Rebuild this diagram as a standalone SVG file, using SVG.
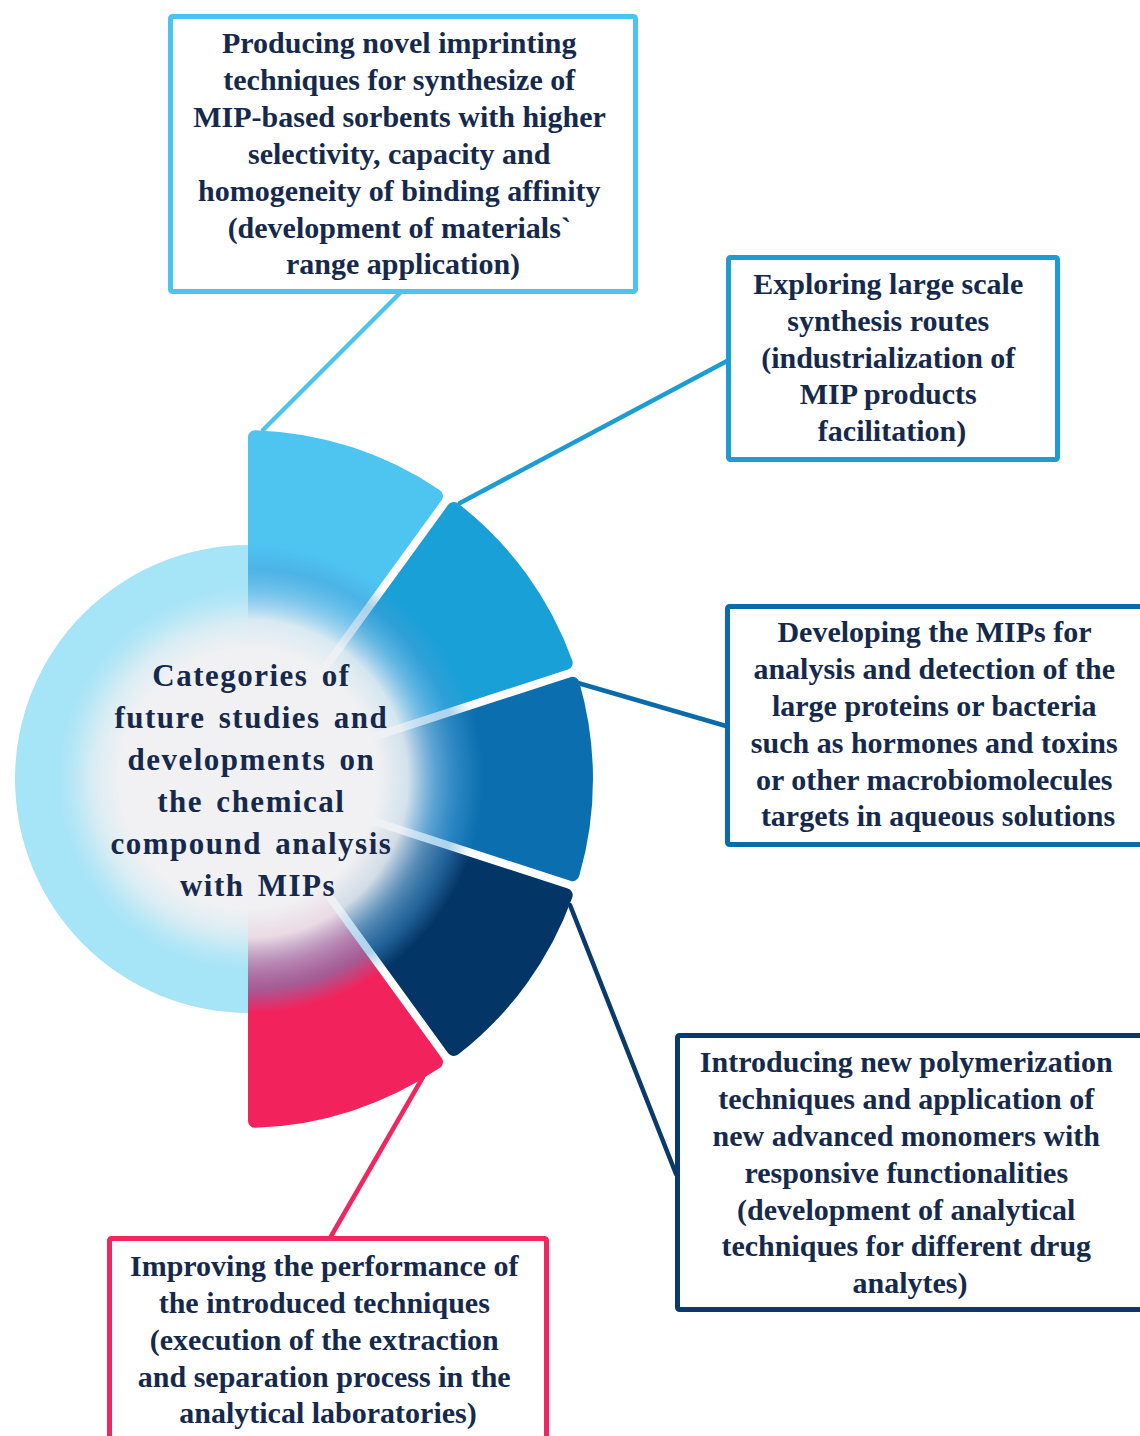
<svg xmlns="http://www.w3.org/2000/svg" width="1140" height="1436" viewBox="0 0 1140 1436">
<style>
.t{font-family:"Liberation Serif","Times New Roman",serif;font-weight:bold;font-size:30px;fill:#15294d;text-anchor:middle}
.c{font-size:31px;letter-spacing:1.5px;word-spacing:4px}
.box{fill:#ffffff;stroke-width:5}
.seg{stroke-width:14;stroke-linejoin:round}
.ln{stroke-width:4.5;fill:none;stroke-linecap:round}
</style>
<defs>
<path id="sector" d="M 11 -33.86 L 11 -341.82 A 342 342 0 0 1 192.02 -282.99 Z"/>
<radialGradient id="ovR" cx="249" cy="779" r="234" gradientUnits="userSpaceOnUse">
<stop offset="0" stop-color="#f1f1f3" stop-opacity="1"/>
<stop offset="0.55" stop-color="#f1f1f3" stop-opacity="1"/>
<stop offset="0.68" stop-color="#e9eef3" stop-opacity="0.9"/>
<stop offset="0.8" stop-color="#8fc4e8" stop-opacity="0.6"/>
<stop offset="0.9" stop-color="#4a9ed8" stop-opacity="0.45"/>
<stop offset="1" stop-color="#4a9ed8" stop-opacity="0"/>
</radialGradient>
<radialGradient id="ovL" cx="249" cy="779" r="234" gradientUnits="userSpaceOnUse">
<stop offset="0" stop-color="#f1f1f3" stop-opacity="1"/>
<stop offset="0.55" stop-color="#f1f1f3" stop-opacity="1"/>
<stop offset="0.66" stop-color="#f1f1f3" stop-opacity="0.7"/>
<stop offset="0.76" stop-color="#f1f1f3" stop-opacity="0.2"/>
<stop offset="0.82" stop-color="#f1f1f3" stop-opacity="0"/>
</radialGradient>
<clipPath id="cl"><rect x="0" y="0" width="248" height="1436"/></clipPath>
<clipPath id="cr"><rect x="248" y="0" width="892" height="1436"/></clipPath>
</defs>
<rect x="0" y="0" width="1140" height="1436" fill="#ffffff"/>

<g id="connectors">
<line class="ln" x1="400" y1="293" x2="263" y2="430" stroke="#4dc3f0"/>
<line class="ln" x1="727" y1="361" x2="460" y2="503" stroke="#1b9dd3"/>
<line class="ln" x1="578" y1="683" x2="726" y2="726" stroke="#0b6aaa"/>
<line class="ln" x1="570" y1="905" x2="676" y2="1174" stroke="#0a3a6b"/>
<line class="ln" x1="423" y1="1077" x2="330" y2="1238" stroke="#f2255e"/>
</g>

<g id="hub">
<circle cx="249" cy="779" r="234" fill="#a6e4f7"/>
<g transform="translate(244,779)" stroke="#ffffff" stroke-width="9">
<line x1="0" y1="0" x2="141.1" y2="-194.2"/>
<line x1="0" y1="0" x2="228.3" y2="-74.2"/>
<line x1="0" y1="0" x2="228.3" y2="74.2"/>
<line x1="0" y1="0" x2="141.1" y2="194.2"/>
</g>
<g transform="translate(244,779)">
<use href="#sector" class="seg" fill="#4ec4f1" stroke="#4ec4f1"/>
<use href="#sector" class="seg" fill="#19a0d7" stroke="#19a0d7" transform="rotate(36)"/>
<use href="#sector" class="seg" fill="#0b6eae" stroke="#0b6eae" transform="rotate(72)"/>
<use href="#sector" class="seg" fill="#043567" stroke="#043567" transform="rotate(108)"/>
<use href="#sector" class="seg" fill="#f2235c" stroke="#f2235c" transform="rotate(144)"/>
</g>
<circle cx="249" cy="779" r="234" fill="url(#ovL)" clip-path="url(#cl)"/>
<circle cx="249" cy="779" r="234" fill="url(#ovR)" clip-path="url(#cr)"/>
<text class="t c">
<tspan x="258" y="686">Categories of</tspan>
<tspan x="258" y="728">future studies and</tspan>
<tspan x="258" y="770">developments on</tspan>
<tspan x="258" y="812">the chemical</tspan>
<tspan x="258" y="854">compound analysis</tspan>
<tspan x="258" y="896">with MIPs</tspan>
</text>
</g>

<g id="box1">
<rect class="box" x="170.5" y="16.5" width="465" height="275" rx="2" stroke="#4dc3f0"/>
<text class="t">
<tspan x="403" y="53">Producing novel imprinting</tspan>
<tspan x="403" y="90">techniques for synthesize of</tspan>
<tspan x="403" y="127">MIP-based sorbents with higher</tspan>
<tspan x="403" y="164">selectivity, capacity and</tspan>
<tspan x="403" y="201">homogeneity of binding affinity</tspan>
<tspan x="403" y="238">(development of materials`</tspan>
<tspan x="403" y="274">range application)</tspan>
</text>
</g>

<g id="box2">
<rect class="box" x="728.5" y="257.5" width="329" height="202" rx="2" stroke="#1b9dd3"/>
<text class="t">
<tspan x="892" y="294">Exploring large scale</tspan>
<tspan x="892" y="331">synthesis routes</tspan>
<tspan x="892" y="368">(industrialization of</tspan>
<tspan x="892" y="404">MIP products</tspan>
<tspan x="892" y="441">facilitation)</tspan>
</text>
</g>

<g id="box3">
<rect class="box" x="727.5" y="606.5" width="430" height="238" rx="2" stroke="#0b6aaa"/>
<text class="t">
<tspan x="938" y="642">Developing the MIPs for</tspan>
<tspan x="938" y="679">analysis and detection of the</tspan>
<tspan x="938" y="716">large proteins or bacteria</tspan>
<tspan x="938" y="753">such as hormones and toxins</tspan>
<tspan x="938" y="790">or other macrobiomolecules</tspan>
<tspan x="938" y="826">targets in aqueous solutions</tspan>
</text>
</g>

<g id="box4">
<rect class="box" x="677.5" y="1035.5" width="480" height="274" rx="2" stroke="#0a3a6b"/>
<text class="t">
<tspan x="910" y="1072">Introducing new polymerization</tspan>
<tspan x="910" y="1109">techniques and application of</tspan>
<tspan x="910" y="1146">new advanced monomers with</tspan>
<tspan x="910" y="1183">responsive functionalities</tspan>
<tspan x="910" y="1220">(development of analytical</tspan>
<tspan x="910" y="1256">techniques for different drug</tspan>
<tspan x="910" y="1293">analytes)</tspan>
</text>
</g>

<g id="box5">
<rect class="box" x="109.5" y="1238.5" width="437" height="220" rx="2" stroke="#f2255e"/>
<text class="t">
<tspan x="328" y="1276">Improving the performance of</tspan>
<tspan x="328" y="1313">the introduced techniques</tspan>
<tspan x="328" y="1350">(execution of the extraction</tspan>
<tspan x="328" y="1387">and separation process in the</tspan>
<tspan x="328" y="1423">analytical laboratories)</tspan>
</text>
</g>
</svg>
